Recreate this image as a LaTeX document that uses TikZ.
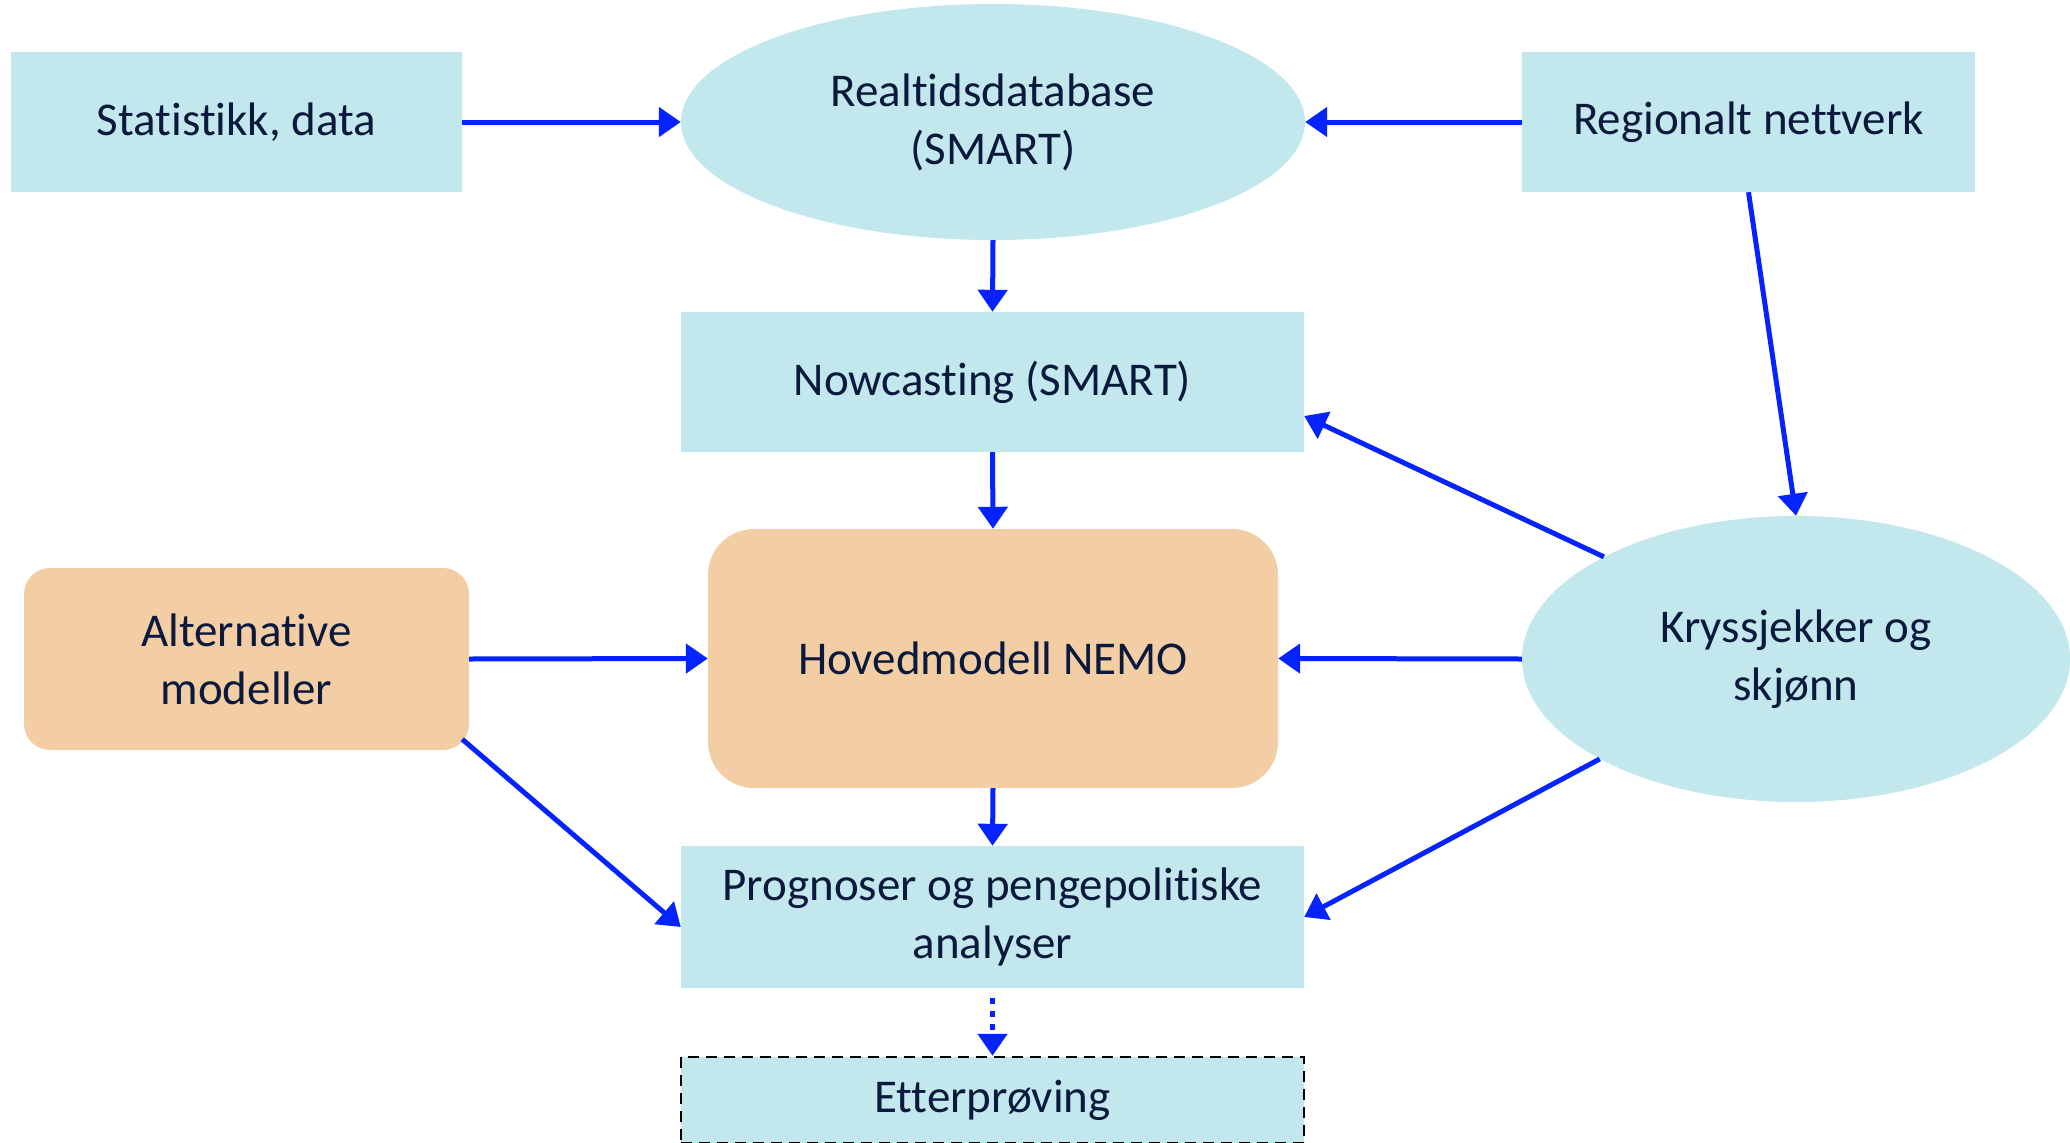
\documentclass[tikz,border=0pt]{standalone}
\usepackage{fontspec}
\setmainfont{Carlito}[Ligatures={NoCommon,NoRare,NoContextual},RawFeature={-liga;-clig;-calt;-dlig}]
\usetikzlibrary{shapes.geometric,arrows.meta}
\definecolor{boxblue}{RGB}{194,231,237}
\definecolor{boxorange}{RGB}{243,206,165}
\definecolor{arrblue}{RGB}{5,35,255}
\definecolor{txt}{RGB}{10,25,60}
\begin{document}
\begin{tikzpicture}[x=1pt,y=-1pt,
  every node/.style={font=\fontsize{47}{58}\selectfont, text=txt, align=center, inner sep=0pt},
  bluebox/.style={rectangle, fill=boxblue},
  bluell/.style={ellipse, fill=boxblue},
  orangebox/.style={rectangle, fill=boxorange},
  arr/.style={draw=arrblue, line width=5pt, -{Triangle[length=22pt,width=29pt]}}
]
\useasboundingbox (0,0) rectangle (2070,1143);
\node[bluebox, minimum width=451pt, minimum height=140pt] (stat) at (236.5,122) {Statistikk, data};
\node[bluell, minimum width=624pt, minimum height=236pt] (real) at (993,122) {Realtidsdatabase\\(SMART)};
\node[bluebox, minimum width=453pt, minimum height=140pt] (reg) at (1748.5,122) {Regionalt nettverk};
\node[bluebox, minimum width=623pt, minimum height=140pt] (now) at (992.5,382) {Nowcasting (SMART)};
\node[orangebox, rounded corners=46pt, minimum width=570pt, minimum height=259pt] (hov) at (993,658.5) {Hovedmodell NEMO};
\node[orangebox, rounded corners=26pt, minimum width=445pt, minimum height=182pt] (alt) at (246.5,659) {Alternative\\modeller};
\node[bluell, minimum width=548pt, minimum height=286pt] (kry) at (1796,659) {Kryssjekker og\\skjønn};
\node[bluebox, minimum width=623pt, minimum height=142pt] (prog) at (992.5,917) {Prognoser og pengepolitiske\\analyser};
\node[bluebox, draw=black, line width=2.5pt, dash pattern=on 11pt off 7pt, minimum width=623pt, minimum height=86pt] (etter) at (992.5,1100) {Etterprøving};

\draw[arr] (stat.east) -- (real.west);
\draw[arr] (reg.west) -- (real.east);
\draw[arr] (real.south) -- (now.north);
\draw[arr] (now.south) -- (hov.north);
\draw[arr] (hov.south) -- (prog.north);
\draw[arr, dash pattern=on 6pt off 7pt, shorten <=10pt] (prog.south) -- (etter.north);
\draw[arr] (alt.east) -- (hov.west);
\draw[arr] (kry.west) -- (hov.east);
\draw[arr] (kry.152) -- ([yshift=-34pt]now.east);
\draw[arr] (kry.207.6) -- (prog.east);
\draw[arr] (reg.south) -- (kry.north);
\draw[arr] ([xshift=-7pt,yshift=11pt]alt.south east) -- ([yshift=-10pt]prog.west);
\end{tikzpicture}
\end{document}
